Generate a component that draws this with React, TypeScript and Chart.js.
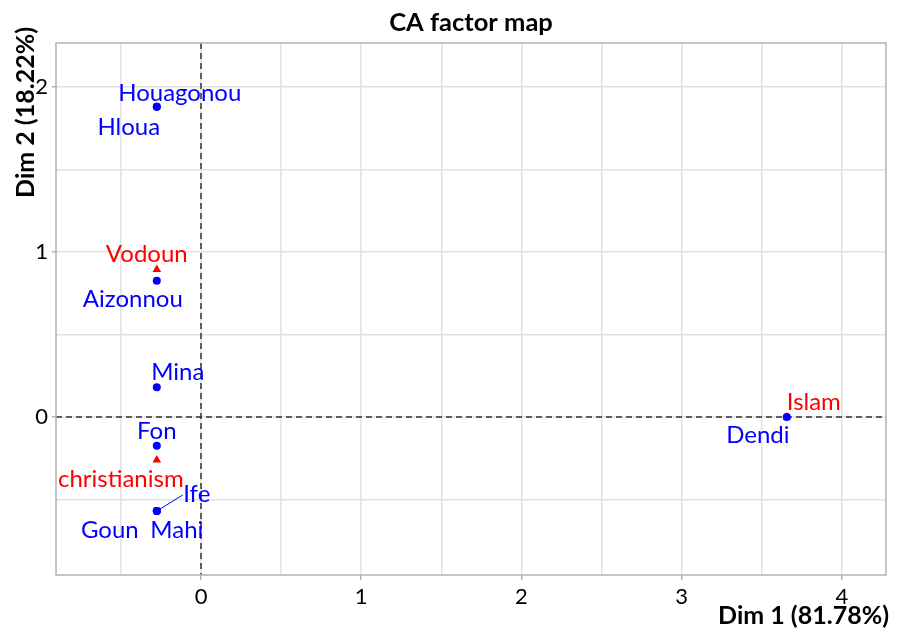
import { useEffect, useRef } from "react";
import { Chart, registerables } from "chart.js";

Chart.register(...registerables);

// ---- data ----
const rowNames = ["Houagonou", "Hloua", "Aizonnou", "Mina", "Fon", "Ife", "Goun", "Mahi", "Dendi"];
const rowDim1 = [-0.276, -0.276, -0.276, -0.276, -0.276, -0.276, -0.276, -0.276, 3.656];
const rowDim2 = [1.881, 1.881, 0.826, 0.18, -0.174, -0.57, -0.57, -0.57, 0.0];

const colNames = ["Vodoun", "christianism", "Islam"];
const colDim1 = [-0.276, -0.276, 3.656];
const colDim2 = [0.894, -0.261, 0.0];

const xTitle = "Dim 1 (81.78%)";
const yTitle = "Dim 2 (18.22%)";
const chartTitle = "CA factor map";

// ---- label placement (pixel offsets from the point, baseline) ----
const rowLabelDx = [23, -28, -24, 21, 0, 40, -47, 20, -29];
const rowLabelDy = [-6, 28, 26, -7, -7, -9, 27, 27, 26];
const colLabelDx = [-10, -36, 27];
const colLabelDy = [-7, 27, -7];

const X_MIN = -0.905;
const X_MAX = 4.275;
const Y_MIN = -0.958;
const Y_MAX = 2.267;

const FONT = "Lato, 'Open Sans', sans-serif";
const BLUE = "#0000ff";
const RED = "#ff0000";

const isInt = (v: number) => Math.abs(v - Math.round(v)) < 1e-6;

const drawPlugin = {
  id: "caDecor",
  beforeDatasetsDraw(chart: any) {
    const { ctx, chartArea: a, scales } = chart;
    const x0 = scales.x.getPixelForValue(0);
    const y0 = scales.y.getPixelForValue(0);
    ctx.save();
    ctx.strokeStyle = "#333333";
    ctx.lineWidth = 1.5;
    ctx.setLineDash([6, 4]);
    ctx.beginPath();
    ctx.moveTo(x0, a.top);
    ctx.lineTo(x0, a.bottom);
    ctx.moveTo(a.left, y0);
    ctx.lineTo(a.right, y0);
    ctx.stroke();
    ctx.setLineDash([]);
    ctx.strokeStyle = "#b3b3b3";
    ctx.lineWidth = 1.5;
    ctx.strokeRect(a.left, a.top, a.right - a.left, a.bottom - a.top);
    ctx.restore();
  },
  afterDatasetsDraw(chart: any) {
    const { ctx, scales } = chart;
    ctx.save();
    ctx.font = `24px ${FONT}`;
    ctx.textAlign = "center";
    ctx.textBaseline = "alphabetic";
    rowNames.forEach((name, i) => {
      const px = scales.x.getPixelForValue(rowDim1[i]);
      const py = scales.y.getPixelForValue(rowDim2[i]);
      ctx.fillStyle = BLUE;
      ctx.fillText(name, px + rowLabelDx[i], py + rowLabelDy[i]);
      if (name === "Ife") {
        ctx.strokeStyle = BLUE;
        ctx.lineWidth = 1;
        ctx.beginPath();
        ctx.moveTo(px, py);
        ctx.lineTo(px + rowLabelDx[i] - 14, py + rowLabelDy[i] - 7);
        ctx.stroke();
      }
    });
    colNames.forEach((name, i) => {
      const px = scales.x.getPixelForValue(colDim1[i]);
      const py = scales.y.getPixelForValue(colDim2[i]);
      ctx.fillStyle = RED;
      ctx.fillText(name, px + colLabelDx[i], py + colLabelDy[i]);
    });
    ctx.restore();
  },
  afterDraw(chart: any) {
    const { ctx, chartArea: a } = chart;
    ctx.save();
    ctx.fillStyle = "#000000";
    ctx.textBaseline = "alphabetic";
    ctx.font = `bold 25.5px ${FONT}`;
    ctx.textAlign = "center";
    ctx.fillText(chartTitle, (a.left + a.right) / 2, 31);
    ctx.font = `bold 25px ${FONT}`;
    ctx.textAlign = "right";
    ctx.fillText(xTitle, a.right + 3, 624);
    ctx.translate(34, 27);
    ctx.rotate(-Math.PI / 2);
    ctx.textAlign = "right";
    ctx.fillText(yTitle, 0, 0);
    ctx.restore();
  },
};

export default function App() {
  const ref = useRef<HTMLCanvasElement>(null);
  useEffect(() => {
    const canvas = ref.current!;
    const tickFont = { family: FONT, size: 22 };
    const chart = new Chart(canvas, {
      type: "scatter",
      data: {
        datasets: [
          {
            label: "rows",
            data: rowDim1.map((x, i) => ({ x, y: rowDim2[i] })),
            pointStyle: "circle",
            pointRadius: 4,
            backgroundColor: BLUE,
            borderColor: BLUE,
            borderWidth: 0,
          },
          {
            label: "columns",
            data: colDim1.map((x, i) => ({ x, y: colDim2[i] })),
            pointStyle: "triangle",
            pointRadius: 5,
            backgroundColor: RED,
            borderColor: RED,
            borderWidth: 0,
          },
        ],
      },
      options: {
        responsive: false,
        maintainAspectRatio: false,
        animation: false,
        layout: { padding: { top: 43, right: 18, left: 0, bottom: 0 } },
        plugins: {
          legend: { display: false },
          tooltip: { enabled: false },
          title: { display: false },
        },
        scales: {
          x: {
            type: "linear",
            min: X_MIN,
            max: X_MAX,
            afterFit: (s: any) => {
              s.height = 54;
            },
            ticks: {
              stepSize: 0.5,
              includeBounds: false,
              autoSkip: false,
              maxRotation: 0,
              maxTicksLimit: 30,
              padding: 4,
              color: "#000000",
              font: tickFont,
              callback: (v: any) => (isInt(Number(v)) ? String(Math.round(Number(v))) : ""),
            },
            grid: {
              color: "#e2e2e2",
              lineWidth: 1.5,
              tickLength: 5,
              tickColor: (c: any) => (c.tick && isInt(c.tick.value) ? "#b3b3b3" : "rgba(0,0,0,0)"),
            },
            border: { display: false },
          },
          y: {
            type: "linear",
            min: Y_MIN,
            max: Y_MAX,
            afterFit: (s: any) => {
              s.width = 56;
            },
            ticks: {
              stepSize: 0.5,
              includeBounds: false,
              autoSkip: false,
              maxTicksLimit: 30,
              padding: 4,
              color: "#000000",
              font: tickFont,
              callback: (v: any) => (isInt(Number(v)) ? String(Math.round(Number(v))) : ""),
            },
            grid: {
              color: "#e2e2e2",
              lineWidth: 1.5,
              tickLength: 4,
              tickColor: (c: any) => (c.tick && isInt(c.tick.value) ? "#b3b3b3" : "rgba(0,0,0,0)"),
            },
            border: { display: false },
          },
        },
      },
      plugins: [drawPlugin],
    } as any);
    return () => chart.destroy();
  }, []);
  return (
    <div style={{ position: "fixed", left: 0, top: 0, width: 904, height: 629, background: "#fff" }}>
      <canvas ref={ref} width={904} height={629} />
    </div>
  );
}
